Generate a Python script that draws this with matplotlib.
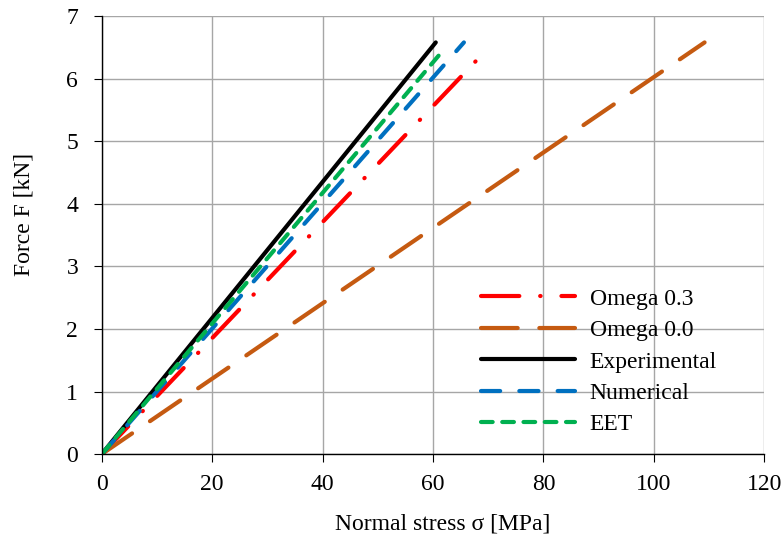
import numpy as np
import matplotlib.pyplot as plt

plt.rcParams['font.family'] = ['Liberation Serif', 'DejaVu Serif']

# Series: lines from origin to end point (sigma in MPa, force in kN)
labels = ['Omega 0.3', 'Omega 0.0', 'Experimental', 'Numerical', 'EET']
sigma_end = [68.5, 109.2, 60.5, 65.6, 61.8]
force_end = [6.35, 6.58, 6.58, 6.58, 6.45]
colors = ['#FF0000', '#C55A11', '#000000', '#0070C0', '#00B050']
dashes = [(9.2, 5, 0.1, 5), (8.8, 5.2), None, (4.6, 4.6), (2.8, 2.3)]

fig = plt.figure(figsize=(7.83, 5.38), dpi=100)
ax = fig.add_axes([0.130, 0.156, 0.846, 0.814])

for lab, xe, ye, c, d in zip(labels, sigma_end, force_end, colors, dashes):
    line, = ax.plot([0, xe], [0, ye], color=c, lw=3, label=lab,
                    solid_capstyle='round', dash_capstyle='round')
    if d is not None:
        line.set_dashes(d)

ax.set_xlim(0, 120)
ax.set_ylim(0, 7)
ax.set_xticks(np.arange(0, 121, 20))
ax.set_yticks(np.arange(0, 8, 1))
ax.grid(True, color='#A6A6A6', lw=1)
ax.set_axisbelow(True)
for s in ['top', 'right']:
    ax.spines[s].set_visible(False)
for s in ['left', 'bottom']:
    ax.spines[s].set_color('#000000')
    ax.spines[s].set_linewidth(1)
ax.tick_params(direction='out', length=6, labelsize=17)
ax.tick_params(axis='x', pad=8)
ax.tick_params(axis='y', pad=11)

ax.set_xlabel('Normal stress σ [MPa]', fontsize=17)
ax.set_ylabel('Force F [kN]', fontsize=17)
ax.xaxis.set_label_coords(0.515, -0.135)
ax.yaxis.set_label_coords(-0.101, 0.548)

ax.legend(loc='upper left', bbox_to_anchor=(0.5725, 0.379), frameon=False,
          fontsize=17, handlelength=4.0, handletextpad=0.6, labelspacing=0.42,
          borderpad=0, borderaxespad=0)

fig.savefig('out.png', dpi=100)
